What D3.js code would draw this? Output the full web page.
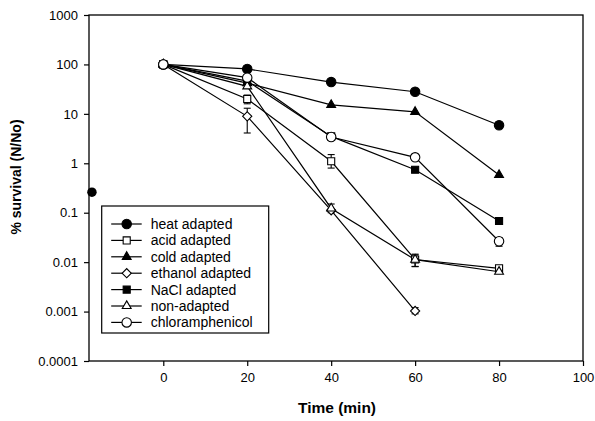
<!DOCTYPE html>
<html>
<head>
<meta charset="utf-8">
<script src="https://cdn.jsdelivr.net/npm/d3@7.9.0/dist/d3.min.js"></script>
<style>
  body { margin: 0; background: #fff; }
  svg { font-family: "Liberation Sans", Arial, sans-serif; }
</style>
</head>
<body>
<svg width="595" height="421"></svg>
<script>
// time points (min)
const times = [0, 20, 40, 60, 80];

// % survival (null = no point)
const heatAdapted = [100, 81, 44, 28, 5.9];
const acidAdapted = [100, 20, 1.1, 0.0113, 0.0075];
const coldAdapted = [100, 42, 15.2, 11, 0.58];
const ethanolAdapted = [100, 8.9, 0.112, 0.00103, null];
const naclAdapted = [100, 46, 3.5, 0.74, 0.068];
const nonAdapted = [100, 36, 0.122, 0.0112, 0.0064];
const chloramphenicol = [100, 54, 3.4, 1.32, 0.0265];

// error bars [low, high] where they show
const acidErr = [null, [16, 24], [0.8, 1.5], [0.0082, 0.0145], null];
const ethanolErr = [null, [4.1, 13], [0.1, 0.15], [0.0009, 0.0012], null];
const nonErr = [null, null, null, [0.0081, 0.014], null];
const chlorErr = [null, null, null, null, [0.021, 0.031]];

// stray point on the left edge
const strayX = [-17];
const strayY = [0.26];

const labels = ['heat adapted', 'acid adapted', 'cold adapted', 'ethanol adapted',
  'NaCl adapted', 'non-adapted', 'chloramphenicol'];

const xTicks = [0, 20, 40, 60, 80, 100];
const yTicks = [0.0001, 0.001, 0.01, 0.1, 1, 10, 100, 1000];

const series = [
  { name: labels[0], values: heatAdapted, err: null, shape: 'circle', filled: true },
  { name: labels[1], values: acidAdapted, err: acidErr, shape: 'square', filled: false },
  { name: labels[2], values: coldAdapted, err: null, shape: 'triangle', filled: true },
  { name: labels[3], values: ethanolAdapted, err: ethanolErr, shape: 'diamond', filled: false },
  { name: labels[4], values: naclAdapted, err: null, shape: 'square', filled: true },
  { name: labels[5], values: nonAdapted, err: nonErr, shape: 'triangle', filled: false },
  { name: labels[6], values: chloramphenicol, err: chlorErr, shape: 'circle', filled: false },
];

const svg = d3.select('svg');
const margin = { top: 15, right: 12, bottom: 60, left: 89 };
const width = 595 - margin.left - margin.right;
const height = 421 - margin.top - margin.bottom;

const g = svg.append('g').attr('transform', `translate(${margin.left},${margin.top})`);

const x = d3.scaleLinear().domain([-17.7, 100]).range([0, width]);
const y = d3.scaleLog().domain([0.0001, 1000]).range([height, 0]);

function symbolPath(shape) {
  if (shape === 'circle') return d3.symbol().type(d3.symbolCircle).size(70)();
  if (shape === 'square') return d3.symbol().type(d3.symbolSquare).size(50)();
  if (shape === 'triangle') return d3.symbol().type(d3.symbolTriangle).size(34)();
  return d3.symbol().type(d3.symbolSquare).size(42)();
}

// frame
g.append('rect')
  .attr('width', width).attr('height', height)
  .attr('fill', 'none').attr('stroke', '#000').attr('stroke-width', 1.3);

// axes
const xAxis = g.append('g')
  .attr('transform', `translate(0,${height})`)
  .call(d3.axisBottom(x).tickValues(xTicks).tickSize(5).tickPadding(7).tickFormat(d3.format('d')));
const yAxis = g.append('g')
  .call(d3.axisLeft(y).tickValues(yTicks).tickSize(5).tickPadding(6).tickFormat(d => d.toString()));

[xAxis, yAxis].forEach(a => {
  a.select('.domain').remove();
  a.selectAll('line').attr('stroke', '#000').attr('stroke-width', 1.2);
  a.selectAll('text').attr('fill', '#000').attr('font-size', 13)
    .attr('font-family', '"Liberation Sans", Arial, sans-serif');
});

// axis titles
svg.append('text')
  .attr('x', 337).attr('y', 413)
  .attr('text-anchor', 'middle')
  .attr('font-size', 15.5).attr('font-weight', 'bold')
  .text('Time (min)');

svg.append('text')
  .attr('transform', 'translate(21,177) rotate(-90)')
  .attr('text-anchor', 'middle')
  .attr('font-size', 14).attr('font-weight', 'bold')
  .text('% survival (N/No)');

const line = d3.line()
  .defined(d => d[1] != null)
  .x(d => x(d[0]))
  .y(d => y(d[1]));

// lines first
series.forEach(s => {
  g.append('path')
    .datum(times.map((t, i) => [t, s.values[i]]))
    .attr('d', line)
    .attr('fill', 'none')
    .attr('stroke', '#000')
    .attr('stroke-width', 1.2);
});

// error bars
series.forEach(s => {
  if (!s.err) return;
  s.err.forEach((e, i) => {
    if (!e) return;
    const cx = x(times[i]);
    g.append('line')
      .attr('x1', cx).attr('x2', cx)
      .attr('y1', y(e[0])).attr('y2', y(e[1]))
      .attr('stroke', '#000').attr('stroke-width', 1.1);
    e.forEach(v => {
      g.append('line')
        .attr('x1', cx - 3.5).attr('x2', cx + 3.5)
        .attr('y1', y(v)).attr('y2', y(v))
        .attr('stroke', '#000').attr('stroke-width', 1.1);
    });
  });
});

// markers
series.forEach(s => {
  s.values.forEach((v, i) => {
    if (v == null) return;
    g.append('path')
      .attr('d', symbolPath(s.shape))
      .attr('transform', `translate(${x(times[i])},${y(v)})` + (s.shape === 'diamond' ? ' rotate(45)' : ''))
      .attr('fill', s.filled ? '#000' : '#fff')
      .attr('stroke', '#000')
      .attr('stroke-width', 1.1);
  });
});

// stray filled circle at the left edge
strayX.forEach((sx, i) => {
  g.append('path')
    .attr('d', symbolPath('circle'))
    .attr('transform', `translate(${x(sx)},${y(strayY[i])})`)
    .attr('fill', '#000');
});

// legend
const legend = g.append('g').attr('transform', `translate(${101.7 - margin.left},${206 - margin.top})`);
legend.append('rect')
  .attr('width', 167).attr('height', 127)
  .attr('fill', '#fff').attr('stroke', '#000').attr('stroke-width', 1.2);

series.forEach((s, i) => {
  const row = legend.append('g').attr('transform', `translate(0,${18 + i * 16.4})`);
  row.append('line')
    .attr('x1', 9.5).attr('x2', 40)
    .attr('stroke', '#000').attr('stroke-width', 1.2);
  row.append('path')
    .attr('d', symbolPath(s.shape))
    .attr('transform', 'translate(25,0)' + (s.shape === 'diamond' ? ' rotate(45)' : ''))
    .attr('fill', s.filled ? '#000' : '#fff')
    .attr('stroke', '#000')
    .attr('stroke-width', 1.1);
  row.append('text')
    .attr('x', 49).attr('y', 5)
    .attr('font-size', 14)
    .text(s.name);
});
</script>
</body>
</html>
